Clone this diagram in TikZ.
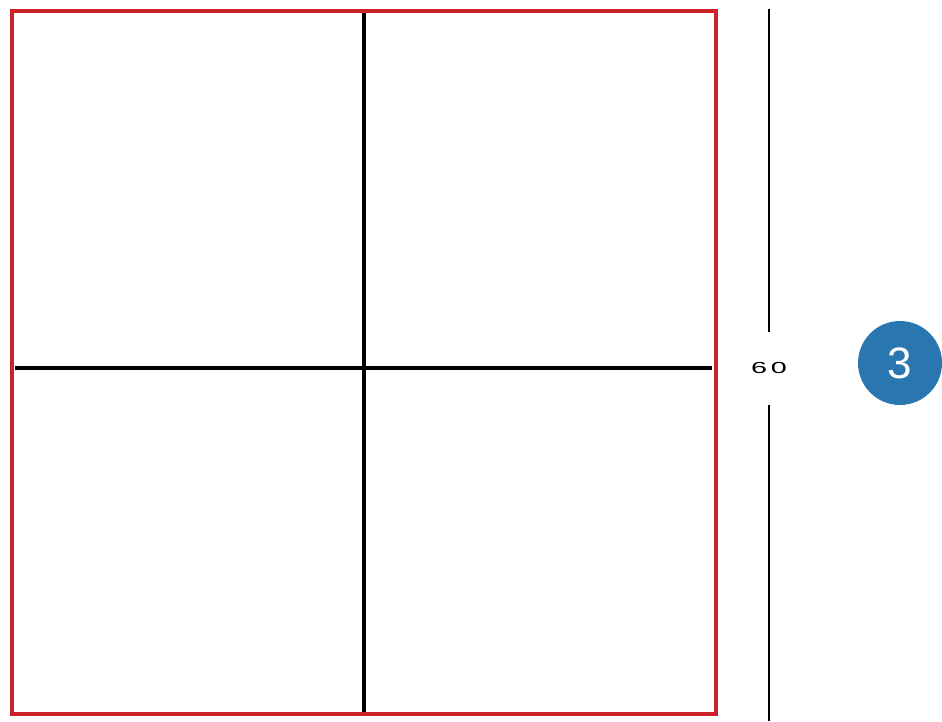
\documentclass[tikz,border=0pt]{standalone}
\usepackage{fontspec}
\setmainfont{Liberation Sans}
\definecolor{framered}{RGB}{204,32,43}
\definecolor{badgeblue}{RGB}{42,118,176}

\begin{document}
\begin{tikzpicture}[x=1pt,y=-1pt,
		frame/.style={draw=framered,line width=4pt},
		split/.style={draw=black,line width=4pt},
		dimline/.style={draw=black,line width=1.3pt},
		badge/.style={circle,fill=badgeblue,minimum size=84pt,inner sep=0pt,text=white,font=\fontsize{44}{46}\selectfont}]
		\useasboundingbox (0,0) rectangle (942,721);

		\coordinate (tl) at (12,11);
		\coordinate (br) at (716,714);
		\coordinate (midtop) at (364,11);
		\coordinate (midbot) at (364,714);
		\coordinate (midleft) at (15,368);
		\coordinate (midright) at (712,368);
		\coordinate (dimtop) at (769,9);
		\coordinate (dimbot) at (769,721);

		\node (size) at (769,368) [inner sep=0pt,font=\fontsize{16}{16}\selectfont] {\scalebox{1.8}[1]{6\kern2pt0}};
		\node (step3) at (900,363) [badge] {3};

		\draw[split] (midtop)--(midbot);
		\draw[split] (midleft)--(midright);
		\draw[frame] (tl) rectangle (br);

		\draw[dimline] (dimtop)--([yshift=30pt]size.north);
		\draw[dimline] ([yshift=-31pt]size.south)--(dimbot);
	\end{tikzpicture}
\end{document}
